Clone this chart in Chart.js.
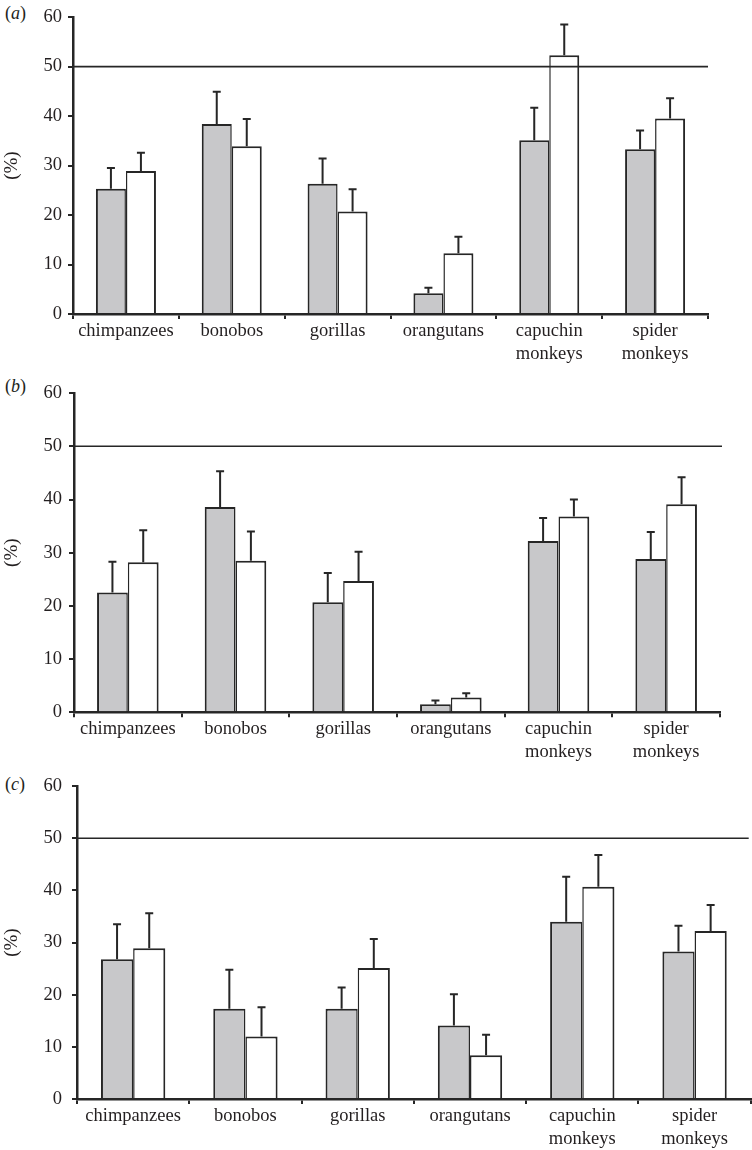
<!DOCTYPE html>
<html><head><meta charset="utf-8">
<script src="https://cdn.jsdelivr.net/npm/chart.js@4.4.0/dist/chart.umd.min.js"></script>
<style>
html,body{margin:0;padding:0;background:#fff;}
body{width:752px;height:1150px;position:relative;overflow:hidden;font-family:"Liberation Serif","Times New Roman",serif;}
canvas{position:absolute;left:0;}
.plabel{position:absolute;font-size:18px;line-height:20px;color:#231f20;font-family:"Liberation Serif",serif;}
</style></head><body>
<div class="plabel" style="left:5px;top:3px">(<i>a</i>)</div>
<div class="plabel" style="left:5px;top:376px">(<i>b</i>)</div>
<div class="plabel" style="left:5px;top:774px">(<i>c</i>)</div>
<canvas id="ca" width="752" height="375" style="top:0px"></canvas>
<canvas id="cb" width="752" height="390" style="top:375px"></canvas>
<canvas id="cc" width="752" height="385" style="top:765px"></canvas>
<script>
// ---- data ----
const categories = [['chimpanzees'], ['bonobos'], ['gorillas'], ['orangutans'], ['capuchin', 'monkeys'], ['spider', 'monkeys']];
const yTickMin = 0;
const yTickMax = 60;
const yTickStep = 10;
const referenceValue = 50;
const axisTitle = '(%)';

// panel (a)
const aGrey = [25.3, 38.4, 26.3, 4.2, 35.1, 33.3];
const aGreyErr = [4.2, 6.5, 5.1, 1.1, 6.6, 3.8];
const aWhite = [28.9, 33.9, 20.7, 12.3, 52.3, 39.5];
const aWhiteErr = [3.7, 5.5, 4.5, 3.3, 6.2, 4.1];
// panel (b)
const bGrey = [22.5, 38.6, 20.7, 1.5, 32.2, 28.8];
const bGreyErr = [5.8, 6.7, 5.5, 0.7, 4.3, 5.1];
const bWhite = [28.2, 28.5, 24.7, 2.8, 36.8, 39.1];
const bWhiteErr = [6.0, 5.5, 5.5, 0.8, 3.2, 5.1];
// panel (c)
const cGrey = [26.8, 17.3, 17.3, 14.1, 34.0, 28.3];
const cGreyErr = [6.7, 7.5, 4.1, 6.0, 8.6, 4.9];
const cWhite = [28.9, 12.0, 25.1, 8.4, 40.7, 32.2];
const cWhiteErr = [6.7, 5.6, 5.6, 3.9, 6.1, 5.0];

// ---- styling ----
const INK = '#262626';
const TEXT = '#231f20';
const GREY = '#c8c8ca';
const FONT = '"Liberation Serif", "Times New Roman", serif';
const FS = 18.5;

const errorBarPlugin = {
  id: 'errorBars',
  afterDatasetsDraw(chart, args, opts) {
    const ctx = chart.ctx;
    const y = chart.scales.y;
    const area = chart.chartArea;
    ctx.save();
    // reference line
    const ry = y.getPixelForValue(referenceValue);
    ctx.strokeStyle = INK;
    ctx.lineWidth = 1.6;
    ctx.beginPath();
    ctx.moveTo(area.left, ry);
    ctx.lineTo(area.right + opts.refExtra, ry);
    ctx.stroke();
    // error bars
    ctx.lineWidth = 2;
    chart.data.datasets.forEach((ds, di) => {
      const meta = chart.getDatasetMeta(di);
      meta.data.forEach((bar, i) => {
        const v = ds.data[i];
        const e = ds.errors[i];
        const y0 = y.getPixelForValue(v);
        const y1 = y.getPixelForValue(v + e);
        const x = bar.x;
        ctx.beginPath();
        ctx.moveTo(x, y0);
        ctx.lineTo(x, y1);
        ctx.moveTo(x - 4, y1);
        ctx.lineTo(x + 4, y1);
        ctx.stroke();
      });
    });
    ctx.restore();
  }
};

function makeChart(id, grey, greyErr, white, whiteErr, P) {
  return new Chart(document.getElementById(id), {
    type: 'bar',
    data: {
      labels: categories,
      datasets: [
        { data: grey, errors: greyErr, backgroundColor: GREY, borderColor: INK,
          borderWidth: { left: 2, top: 2, right: 1.5, bottom: 0 }, borderSkipped: 'start' },
        { data: white, errors: whiteErr, backgroundColor: '#ffffff', borderColor: INK,
          borderWidth: { left: 1.5, top: 2, right: 2, bottom: 0 }, borderSkipped: 'start' }
      ]
    },
    plugins: [errorBarPlugin],
    options: {
      responsive: false,
      animation: false,
      devicePixelRatio: 1,
      events: [],
      layout: { padding: { top: P.top, right: P.right, left: 0, bottom: 0 } },
      datasets: { bar: { categoryPercentage: P.cat, barPercentage: 1.0 } },
      plugins: { legend: { display: false }, tooltip: { enabled: false }, errorBars: { refExtra: P.refExtra } },
      scales: {
        x: {
          offset: true,
          grid: { offset: true, drawOnChartArea: false, drawTicks: true, tickLength: 5, color: INK, lineWidth: 2 },
          border: { display: true, color: INK, width: 2.5 },
          ticks: { color: TEXT, font: { family: FONT, size: FS, lineHeight: 1.26 }, padding: P.xpad,
                   maxRotation: 0, minRotation: 0, autoSkip: false },
          afterFit: s => { s.height = P.xh; }
        },
        y: {
          min: yTickMin, max: yTickMax,
          grid: { drawOnChartArea: false, drawTicks: true, tickLength: 5, color: INK, lineWidth: 2 },
          border: { display: true, color: INK, width: 2.5 },
          ticks: { stepSize: yTickStep, color: TEXT, font: { family: FONT, size: FS }, padding: P.ypad },
          title: { display: true, text: axisTitle, color: TEXT, font: { family: FONT, size: FS + 0.5 }, padding: { top: 0.5, bottom: 0 } },
          afterFit: s => { s.width = P.yw; }
        }
      }
    }
  });
}

makeChart('ca', aGrey, aGreyErr, aWhite, aWhiteErr,
  { top: 14, right: 44, xh: 61, yw: 73, cat: 0.567, xpad: 0, ypad: 6, refExtra: 0 });
makeChart('cb', bGrey, bGreyErr, bWhite, bWhiteErr,
  { top: 15, right: 32, xh: 52.7, yw: 74, cat: 0.572, xpad: 0, ypad: 7, refExtra: 2 });
makeChart('cc', cGrey, cGreyErr, cWhite, cWhiteErr,
  { top: 19.7, right: 1.3, xh: 51, yw: 77, cat: 0.573, xpad: 0, ypad: 10, refExtra: -2 });
</script>
</body></html>
